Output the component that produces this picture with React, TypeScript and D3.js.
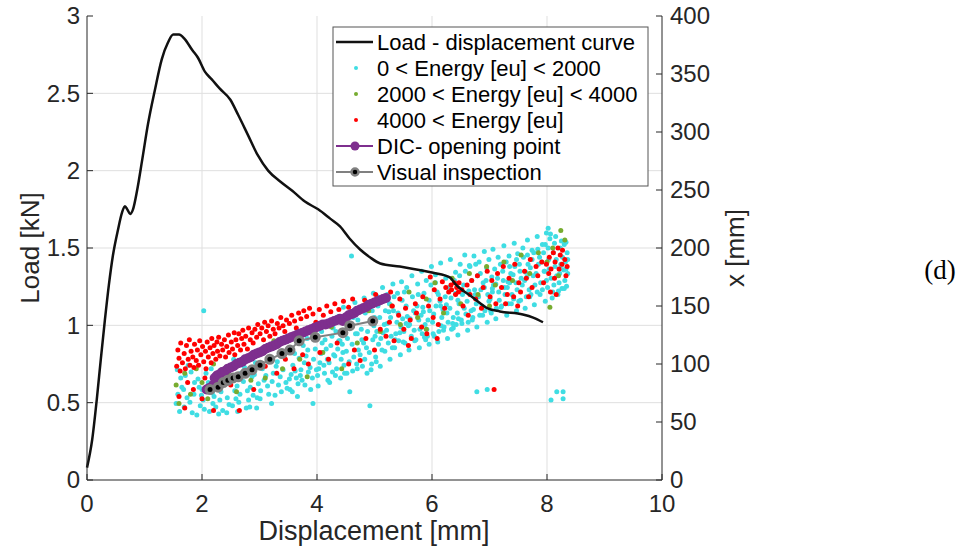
import { scaleLinear, line, curveMonotoneX } from 'd3'

const dispTicks = [0, 2, 4, 6, 8, 10]
const loadTicks = [0, 0.5, 1, 1.5, 2, 2.5, 3]
const xmmTicks = [0, 50, 100, 150, 200, 250, 300, 350, 400]

// load - displacement curve (left axis)
const curveDisp = [0, 0.09, 0.17, 0.24, 0.31, 0.38, 0.45, 0.54, 0.61, 0.66, 0.7, 0.75, 0.8, 0.87, 0.96, 1.06, 1.18, 1.3, 1.41, 1.5, 1.6, 1.7, 1.83, 1.93, 2.05, 2.17, 2.31, 2.49, 2.63, 2.8, 2.97, 3.15, 3.36, 3.57, 3.79, 4.02, 4.23, 4.4, 4.57, 4.75, 4.92, 5.1, 5.44, 6.02, 6.31, 6.4, 6.71, 6.97, 7.18, 7.58, 7.76, 7.93]
const curveLoad = [0.08, 0.26, 0.52, 0.78, 1.03, 1.26, 1.45, 1.62, 1.73, 1.77, 1.75, 1.72, 1.75, 1.87, 2.07, 2.3, 2.52, 2.72, 2.83, 2.88, 2.88, 2.85, 2.78, 2.73, 2.64, 2.59, 2.53, 2.46, 2.36, 2.23, 2.1, 2.0, 1.93, 1.87, 1.8, 1.75, 1.69, 1.64, 1.56, 1.49, 1.44, 1.4, 1.38, 1.34, 1.31, 1.27, 1.18, 1.11, 1.09, 1.07, 1.05, 1.02]

// acoustic events [displacement, x mm] (right axis)
const lowEnergy: [number, number][] = [
  [1.55,66],[1.61,59],[1.58,74],[1.63,88],[1.57,95],[1.65,80],
  [1.69,63],[1.74,71],[1.71,90],[1.76,99],[1.68,78],
  [1.83,58],[1.79,67],[1.87,84],[1.81,93],[1.86,74],
  [1.91,56],[1.97,64],[1.93,87],[1.99,73],[1.95,80],
  [2.04,61],[2.0,78],[2.07,92],[2.02,69],[2.03,146],
  [2.13,59],[2.18,75],[2.11,84],[2.16,96],[2.19,66],
  [2.24,63],[2.21,72],[2.27,88],[2.23,79],[2.29,57],
  [2.36,60],[2.31,69],[2.38,94],[2.33,76],
  [2.47,65],[2.41,83],[2.44,71],[2.49,99],[2.43,58],
  [2.53,64],[2.57,77],[2.51,87],[2.59,70],[2.55,104],
  [2.64,67],[2.61,81],[2.68,92],[2.66,74],[2.62,59],
  [2.77,62],[2.72,85],[2.79,77],[2.74,97],
  [2.81,69],[2.87,89],[2.84,80],[2.89,73],[2.83,63],
  [2.96,71],[2.91,91],[2.98,83],[2.93,101],[2.95,62],
  [3.02,77],[3.08,86],[3.05,96],[3.01,70],
  [3.14,81],[3.11,90],[3.18,104],[3.16,74],
  [3.27,73],[3.22,85],[3.29,98],[3.24,92],[3.21,66],
  [3.33,82],[3.38,76],[3.31,102],[3.36,89],
  [3.46,84],[3.41,95],[3.48,79],[3.43,108],
  [3.52,87],[3.58,99],[3.55,91],[3.51,112],[3.57,76],
  [3.67,83],[3.62,94],[3.69,105],[3.64,88],
  [3.71,90],[3.78,101],[3.74,86],[3.76,116],
  [3.85,93],[3.81,107],[3.88,97],[3.83,122],
  [3.92,88],[3.93,66],[3.97,113],[3.99,95],[3.94,104],
  [4.03,96],[4.07,109],[4.01,90],[4.09,118],[4.05,101],
  [4.12,99],[4.16,113],[4.18,104],[4.19,86],[4.14,121],
  [4.21,101],[4.27,93],[4.24,116],[4.29,108],[4.26,124],
  [4.34,96],[4.31,107],[4.38,120],[4.36,113],[4.33,128],
  [4.42,104],[4.47,99],[4.44,117],[4.49,129],[4.45,110],
  [4.51,111],[4.56,102],[4.57,76],[4.59,134],[4.53,122],
  [4.64,106],[4.61,117],[4.67,126],[4.69,100],[4.6,193],[4.63,140],
  [4.72,112],[4.78,121],[4.75,108],[4.71,138],[4.77,130],
  [4.83,104],[4.81,118],[4.88,128],[4.86,114],[4.84,144],
  [4.91,110],[4.92,64],[4.94,95],[4.97,121],[4.99,133],[4.96,146],
  [5.02,106],[5.07,117],[5.04,128],[5.09,140],[5.01,124],[5.06,150],
  [5.13,112],[5.11,122],[5.17,134],[5.19,146],[5.15,127],[5.12,155],
  [5.24,118],[5.21,129],[5.28,140],[5.26,152],[5.22,135],[5.29,124],
  [5.31,114],[5.37,126],[5.34,158],[5.39,136],[5.33,146],[5.36,121],
  [5.42,120],[5.46,132],[5.41,144],[5.48,155],[5.44,127],[5.49,139],
  [5.53,118],[5.51,128],[5.57,141],[5.55,150],[5.59,133],[5.52,162],
  [5.64,124],[5.61,134],[5.68,146],[5.66,158],[5.62,139],[5.69,129],
  [5.72,121],[5.77,138],[5.74,150],[5.79,130],[5.71,144],[5.76,160],
  [5.83,126],[5.81,142],[5.88,134],[5.86,161],[5.84,149],[5.89,121],
  [5.91,130],[5.96,146],[5.93,138],[5.98,168],[5.95,155],[5.92,124],
  [6.04,124],[6.01,136],[6.07,150],[6.09,162],[6.03,143],[6.06,170],
  [6.12,128],[6.17,140],[6.14,154],[6.19,147],[6.11,160],[6.16,133],
  [6.21,132],[6.26,144],[6.23,158],[6.28,136],[6.25,151],[6.29,166],
  [6.34,130],[6.31,148],[6.37,140],[6.39,172],[6.33,157],[6.36,135],
  [6.42,134],[6.47,152],[6.44,144],[6.48,176],[6.41,161],[6.46,139],
  [6.51,138],[6.56,148],[6.53,160],[6.58,180],[6.55,168],[6.59,143],
  [6.63,136],[6.61,154],[6.68,146],[6.66,184],[6.64,163],[6.69,172],
  [6.71,140],[6.77,152],[6.74,164],[6.79,176],[6.78,76],[6.72,147],[6.76,186],
  [6.83,142],[6.81,158],[6.87,150],[6.89,170],[6.85,164],[6.84,178],
  [6.92,146],[6.97,160],[6.94,172],[6.99,154],[6.96,78],[6.91,166],[6.95,183],
  [7.03,144],[7.01,156],[7.07,168],[7.09,182],[7.05,162],[7.04,175],
  [7.12,148],[7.16,162],[7.14,174],[7.19,186],[7.11,169],[7.17,155],
  [7.21,150],[7.27,160],[7.24,172],[7.29,188],[7.23,180],[7.26,166],
  [7.33,152],[7.31,166],[7.37,178],[7.39,160],[7.35,184],[7.32,171],
  [7.42,156],[7.46,170],[7.44,184],[7.48,164],[7.41,177],[7.47,190],
  [7.51,154],[7.57,168],[7.53,180],[7.59,192],[7.55,174],[7.52,186],
  [7.64,158],[7.61,172],[7.67,186],[7.69,164],[7.63,179],[7.66,194],
  [7.72,160],[7.76,176],[7.74,190],[7.79,168],[7.71,183],[7.77,196],
  [7.83,162],[7.81,178],[7.87,192],[7.89,170],[7.85,186],[7.84,199],
  [7.92,164],[7.96,180],[7.94,196],[7.99,172],[7.91,188],[7.97,203],
  [8.01,166],[8.04,182],[8.02,200],[8.07,174],[8.02,217],[8.05,208],[8.03,190],[8.09,157],
  [8.12,168],[8.14,184],[8.11,196],[8.17,176],[8.13,204],[8.16,190],[8.19,160],
  [8.21,170],[8.24,186],[8.22,178],[8.27,192],[8.23,200],[8.26,165],[8.29,181],
  [8.31,172],[8.33,182],[8.35,196],[8.32,188],[8.34,167],[8.3,203],
  [8.07,69],[8.17,76],[8.28,76],[8.28,70],
  [3.53,78],[3.61,109],[3.66,72],[3.72,95],[3.79,82],[3.84,112],[3.89,78],[3.96,125],
  [4.02,81],[4.08,128],[4.13,92],[4.17,136],[4.22,84],[4.28,131],[4.32,90],[4.37,141],[4.41,88],[4.46,149],[4.48,92],
  [4.52,92],[4.55,144],[4.62,94],[4.66,153],[4.7,96],[4.74,147],[4.79,98],[4.82,157],[4.87,92],[4.9,150],[4.95,100],[4.98,161],
  [5.05,158],[5.14,166],[5.22,160],[5.32,169],[5.4,161],[5.47,171],[5.56,166],[5.65,176],[5.75,169],[5.82,180],
  [5.9,172],[5.99,184],[6.06,177],[6.15,187],[6.24,174],[6.32,190],[6.41,179],[6.49,186],[6.57,194],[6.65,185],
  [6.73,193],[6.82,188],[6.91,197],[6.99,190],[7.06,199],[7.15,192],[7.25,202],[7.34,193],[7.43,204],[7.49,195],
  [7.58,200],[7.66,207],[7.74,198],[7.83,210],[7.92,203],[7.99,213],
  [5.03,102],[5.1,98],[5.18,111],[5.27,104],[5.35,114],[5.45,108],[5.5,119],[5.6,112],[5.7,120],[5.78,114],
  [5.87,123],[5.95,117],[6.02,126],[6.1,119],[6.2,129],[6.27,122],[6.37,131],[6.45,125],[6.52,135],[6.62,129],
  [6.7,138],[6.78,132],[6.88,142],[6.96,136],[7.02,146],[7.11,139],[7.2,149],[7.3,142],[7.38,152],[7.47,146],
  [7.54,155],[7.62,148],[7.7,158],[7.78,151],[7.88,160],[7.97,154],
  [8.06,212],[8.15,210],[8.25,206],[8.33,205],[8.36,178],[8.36,190],[8.1,162],[8.2,163],[8.3,165],
  [5.25,145],[5.55,135],[5.85,145],[6.15,150],[6.45,155],[6.75,160],[7.05,165],[7.35,170],[7.65,175],[7.95,180],
  [8.25,185],[5.0,140],[4.7,126],[4.4,120],[4.1,110]
]

const midEnergy: [number, number][] = [
  [1.55,82],[1.6,66],[1.7,92],[1.8,74],[1.9,96],[2.0,84],[2.1,70],[2.2,100],[2.3,80],[2.45,92],
  [2.6,76],[2.7,104],[2.85,86],[3.0,110],[3.1,88],[3.25,120],[3.4,96],[3.55,124],[3.7,104],[3.83,89],
  [3.95,128],[4.1,110],[4.25,132],[4.43,96],[4.5,140],[4.7,118],[4.9,146],[5.1,128],[5.3,150],[5.45,134],
  [5.6,162],[5.75,140],[5.9,156],[6.05,170],[6.2,144],[6.35,174],[6.5,152],[6.65,178],[6.8,160],[6.95,184],
  [7.1,168],[7.25,188],[7.4,172],[7.55,194],[7.7,178],[7.85,196],[8.0,188],[8.05,149],[8.1,200],[8.24,215],
  [8.31,207],[8.2,176],[5.9,130],[7.0,150]
]

const highEnergy: [number, number][] = [
  [1.56,98],[1.58,112],[1.6,105],[1.62,94],[1.63,118],[1.66,101],[1.69,109],[1.71,96],[1.73,116],[1.76,104],
  [1.78,121],[1.79,99],[1.81,111],[1.84,106],[1.86,97],[1.87,117],[1.9,103],[1.92,112],[1.94,99],[1.96,120],
  [1.98,108],[2.01,115],[2.03,102],[2.06,111],[2.07,96],[2.09,119],[2.11,106],[2.14,114],[2.16,101],[2.17,122],
  [2.19,109],[2.21,116],[2.24,104],[2.26,119],[2.27,111],[2.29,123],[2.31,107],[2.34,117],[2.36,112],[2.39,121],
  [2.41,106],[2.43,115],[2.46,125],[2.47,110],[2.51,119],[2.53,113],[2.56,127],[2.57,108],[2.59,121],[2.62,116],
  [2.64,126],[2.67,112],[2.69,122],[2.71,129],[2.73,117],[2.76,124],[2.79,113],[2.81,131],[2.84,121],[2.87,127],
  [2.89,118],[2.92,130],[2.95,123],[2.97,134],[3.01,126],[3.04,131],[3.07,121],[3.09,136],[3.12,128],[3.15,133],
  [3.18,124],[3.21,137],[3.24,130],[3.27,126],[3.31,135],[3.34,131],[3.37,140],[3.41,133],[3.44,128],[3.47,138],
  [3.52,135],[3.56,142],[3.61,137],[3.64,131],[3.68,144],[3.72,139],[3.77,146],[3.82,141],[3.87,148],[3.93,143],
  [3.98,136],[4.04,147],[4.11,142],[4.17,150],[4.24,145],[4.31,152],[4.38,147],[4.46,154],[4.55,149],[4.62,156],
  [4.83,155],[5.02,160],[5.28,162],
  [1.6,72],[1.7,62],[1.75,84],[1.85,78],[2.0,70],[2.05,88],[2.2,60],[2.35,90],[2.5,82],[2.65,60],
  [2.8,92],[2.9,78],[3.1,98],[3.3,92],[3.45,104],[3.6,96],[3.75,108],[3.85,100],[4.05,110],[4.2,104],
  [4.35,118],[4.55,100],[4.65,112],[4.75,103],[4.85,122],[5.0,112],[5.1,130],[5.2,124],
  [5.26,136],[5.31,150],[5.34,120],[5.42,142],[5.44,156],[5.51,130],[5.54,148],[5.62,138],[5.64,122],[5.71,152],
  [5.73,144],[5.82,132],[5.84,158],[5.91,126],[5.94,150],[6.02,140],[6.04,164],[6.11,134],[6.14,156],[6.22,148],
  [6.24,166],[6.29,162],[6.33,168],[6.34,164],[6.39,170],[6.41,160],[6.43,166],[6.46,162],[6.47,170],[6.52,164],
  [6.54,150],[6.61,168],[6.63,142],[6.66,160],[6.69,172],[6.76,156],[6.79,176],[6.86,148],[6.89,166],[6.96,180],
  [7.01,158],[7.04,172],[7.08,78],[7.11,152],[7.14,178],[7.21,166],[7.24,184],[7.31,160],[7.34,174],[7.42,158],
  [7.44,186],[7.51,170],[7.54,162],[7.61,180],[7.64,174],[7.71,190],[7.74,166],[7.81,184],[7.84,176],[7.91,188],
  [7.94,170],[7.99,186],[8.03,178],[8.04,192],[8.07,182],[8.11,196],[8.13,174],[8.14,188],[8.19,200],[8.21,182],
  [8.23,194],[8.26,186],[8.27,198],[8.31,190],[8.33,176],[8.35,184],[8.06,162],[8.16,160],[7.49,150],[6.09,122],
  [5.59,116],[5.97,175],[6.18,171],[7.68,158],[7.28,152]
]

// DIC crack opening point
const dicPoints: [number, number][] = [
  [2.08,78],[2.12,79],[2.16,80],[2.2,82],[2.22,88],[2.26,90],[2.3,91],[2.35,93],[2.4,94],[2.45,96],
  [2.5,97],[2.55,98],[2.6,100],[2.65,101],[2.7,102],[2.75,104],[2.8,105],[2.85,106],[2.9,108],[2.95,109],
  [3.0,110],[3.05,111],[3.1,113],[3.15,114],[3.2,115],[3.25,116],[3.3,117],[3.35,119],[3.4,120],[3.45,121],
  [3.5,122],[3.55,123],[3.6,124],[3.65,125],[3.7,126],[3.75,127],[3.8,128],[3.85,129],[3.9,130],[3.95,131],
  [4.0,132],[4.05,133],[4.1,134],[4.15,134],[4.2,135],[4.25,136],[4.3,137],[4.35,138],[4.4,139],[4.45,137],
  [4.5,140],[4.55,142],[4.6,143],[4.65,144],[4.7,146],[4.75,147],[4.8,148],[4.85,149],[4.9,151],[4.95,152],
  [5.0,153],[5.05,154],[5.1,155],[5.15,156],[5.2,157]
]

// visual inspection
const visualPoints: [number, number][] = [
  [2.14,78],[2.28,80],[2.37,84],[2.45,86],[2.54,88],[2.63,89],[2.75,92],[2.87,95],[3.01,99],
  [3.18,104],[3.39,109],[3.53,112],[3.69,120],[3.97,123],[4.45,127],[4.57,133],[4.97,137]
]

const legendLabels = [
  'Load - displacement curve',
  '0 < Energy [eu] < 2000',
  '2000 < Energy [eu] < 4000',
  '4000 < Energy [eu]',
  'DIC- opening point',
  'Visual inspection'
]

const axisColor = '#262626'
const cyan = '#3fdde3'
const green = '#77ac30'
const red = '#ff0000'
const purple = '#7e2f8e'
const gray = '#808080'

export default function App() {
  const width = 966, height = 552
  const left = 87, right = 662, top = 16, bottom = 480

  const x = scaleLinear().domain([0, 10]).range([left, right])
  const yL = scaleLinear().domain([0, 3]).range([bottom, top])
  const yR = scaleLinear().domain([0, 400]).range([bottom, top])

  const loadPath = line<number>()
    .x((d) => x(d))
    .y((_, i) => yL(curveLoad[i]))
    .curve(curveMonotoneX)(curveDisp) as string

  const pairPath = line<[number, number]>()
    .x((d) => x(d[0]))
    .y((d) => yR(d[1]))

  const font = 'Liberation Sans, Arial, Helvetica, sans-serif'
  const lgX = 333, lgY = 27, lgW = 315, lgH = 159, rowH = 26

  return (
    <svg width={width} height={height} style={{ position: 'absolute', left: 0, top: 0, background: '#fff' }} fontFamily={font}>
      <rect width={width} height={height} fill="#fff" />
      {/* grid */}
      {dispTicks.slice(1, -1).map((t) => (
        <line key={'gx' + t} x1={x(t)} x2={x(t)} y1={top} y2={bottom} stroke="#dfdfdf" strokeWidth={1} />
      ))}
      {loadTicks.slice(1, -1).map((t) => (
        <line key={'gy' + t} x1={left} x2={right} y1={yL(t)} y2={yL(t)} stroke="#dfdfdf" strokeWidth={1} />
      ))}

      {/* scatter */}
      {lowEnergy.map((d, i) => (
        <circle key={'c' + i} cx={x(d[0])} cy={yR(d[1])} r={2.5} fill={cyan} />
      ))}
      {midEnergy.map((d, i) => (
        <circle key={'g' + i} cx={x(d[0])} cy={yR(d[1])} r={2.5} fill={green} />
      ))}
      {highEnergy.map((d, i) => (
        <circle key={'r' + i} cx={x(d[0])} cy={yR(d[1])} r={2.5} fill={red} />
      ))}

      {/* DIC */}
      <path d={pairPath(dicPoints) as string} fill="none" stroke={purple} strokeWidth={2} />
      {dicPoints.map((d, i) => (
        <circle key={'p' + i} cx={x(d[0])} cy={yR(d[1])} r={5} fill={purple} />
      ))}

      {/* visual inspection */}
      <path d={pairPath(visualPoints) as string} fill="none" stroke={gray} strokeWidth={2} />
      {visualPoints.map((d, i) => (
        <circle key={'v' + i} cx={x(d[0])} cy={yR(d[1])} r={4} fill="#000" stroke={gray} strokeWidth={3} />
      ))}

      {/* load curve */}
      <path d={loadPath} fill="none" stroke="#111" strokeWidth={2.5} />

      {/* axes */}
      <line x1={left} x2={left} y1={top} y2={bottom} stroke={axisColor} strokeWidth={1} />
      <line x1={right} x2={right} y1={top} y2={bottom} stroke={axisColor} strokeWidth={1} />
      <line x1={left} x2={right} y1={bottom} y2={bottom} stroke={axisColor} strokeWidth={1} />

      {dispTicks.map((t) => (
        <g key={'xt' + t}>
          <line x1={x(t)} x2={x(t)} y1={bottom} y2={bottom - 6} stroke={axisColor} />
          <text x={x(t)} y={bottom + 32} textAnchor="middle" fontSize={24} fill={axisColor}>{t}</text>
        </g>
      ))}
      {loadTicks.map((t) => (
        <g key={'yl' + t}>
          <line x1={left} x2={left + 6} y1={yL(t)} y2={yL(t)} stroke={axisColor} />
          <text x={left - 7} y={yL(t)} dy="0.35em" textAnchor="end" fontSize={24} fill={axisColor}>{t}</text>
        </g>
      ))}
      {xmmTicks.map((t) => (
        <g key={'yr' + t}>
          <line x1={right} x2={right - 6} y1={yR(t)} y2={yR(t)} stroke={axisColor} />
          <text x={right + 8} y={yR(t)} dy="0.35em" textAnchor="start" fontSize={24} fill={axisColor}>{t}</text>
        </g>
      ))}

      {/* axis titles */}
      <text x={374} y={540} textAnchor="middle" fontSize={27} fill={axisColor}>Displacement [mm]</text>
      <text transform={`translate(30, ${(top + bottom) / 2}) rotate(-90)`} textAnchor="middle" dy="0.35em" fontSize={26} fill={axisColor}>Load [kN]</text>
      <text transform={`translate(735, ${(top + bottom) / 2}) rotate(-90)`} textAnchor="middle" dy="0.35em" fontSize={26} fill={axisColor}>x [mm]</text>

      {/* legend */}
      <rect x={lgX} y={lgY} width={lgW} height={lgH} fill="#fff" stroke="#555" strokeWidth={1} />
      {legendLabels.map((lab, i) => {
        const cy = lgY + 15 + i * rowH
        return (
          <g key={'lg' + i}>
            {i === 0 && <line x1={lgX + 3} x2={lgX + 40} y1={cy} y2={cy} stroke="#111" strokeWidth={2.5} />}
            {i === 1 && <circle cx={lgX + 23} cy={cy} r={2} fill={cyan} />}
            {i === 2 && <circle cx={lgX + 23} cy={cy} r={2} fill={green} />}
            {i === 3 && <circle cx={lgX + 23} cy={cy} r={2} fill={red} />}
            {i === 4 && (
              <>
                <line x1={lgX + 3} x2={lgX + 40} y1={cy} y2={cy} stroke={purple} strokeWidth={2} />
                <circle cx={lgX + 22} cy={cy} r={4.5} fill={purple} />
              </>
            )}
            {i === 5 && (
              <>
                <line x1={lgX + 3} x2={lgX + 40} y1={cy} y2={cy} stroke={gray} strokeWidth={2} />
                <circle cx={lgX + 22} cy={cy} r={3.5} fill="#000" stroke={gray} strokeWidth={2.5} />
              </>
            )}
            <text x={lgX + 44} y={cy} dy="0.35em" fontSize={22} fill="#000">{lab}</text>
          </g>
        )
      })}

      <text x={940} y={270} textAnchor="middle" dy="0.35em" fontSize={27} fontFamily="Liberation Serif, Times New Roman, serif" fill="#000">(d)</text>
    </svg>
  )
}
